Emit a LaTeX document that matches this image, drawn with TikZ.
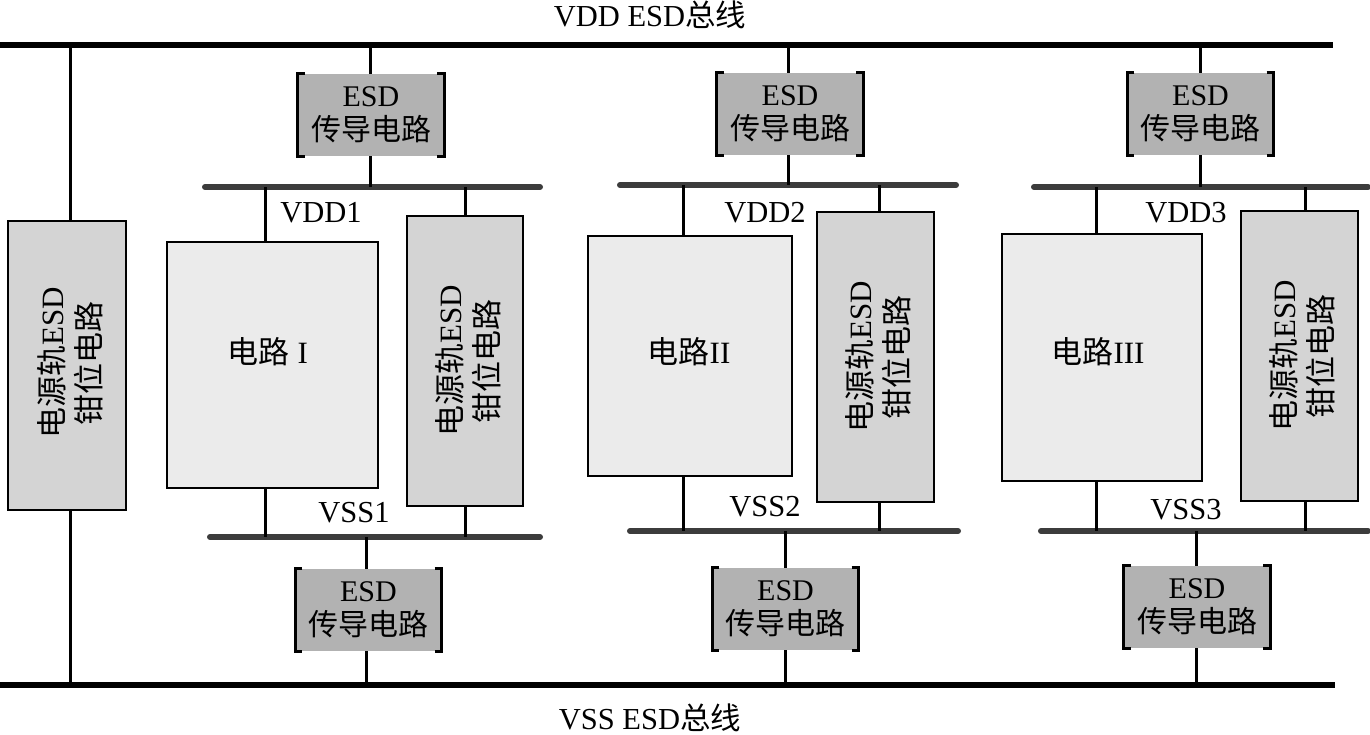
\documentclass[tikz,border=0pt]{standalone}
\usepackage{fontspec}
\setmainfont{Liberation Serif}
\newfontfamily\cjk{Noto Sans CJK SC}
\newcommand\zh[1]{{\cjk #1}}
\definecolor{esdgray}{HTML}{B2B2B2}
\definecolor{clampgray}{HTML}{D4D4D4}
\definecolor{circgray}{HTML}{EBEBEB}
\definecolor{busgray}{HTML}{3C3C3C}
\newcommand\brk[1]{%
  \draw[brkline] ([xshift=7pt]#1.north west) -- (#1.north west) -- (#1.south west) -- ([xshift=7pt]#1.south west);
  \draw[brkline] ([xshift=-7pt]#1.north east) -- (#1.north east) -- (#1.south east) -- ([xshift=-7pt]#1.south east);}
\begin{document}
\begin{tikzpicture}[x=1pt,y=-1pt,
  mainbus/.style={line width=6.5pt,black},
  lbus/.style={line width=6pt,draw=busgray,line cap=round},
  wire/.style={line width=3pt},
  brkline/.style={line width=3pt,line join=miter},
  esd/.style={fill=esdgray,minimum width=146pt,minimum height=82pt,inner sep=0pt,align=center,
     font=\fontsize{30}{34}\selectfont},
  circbox/.style={draw,line width=2.5pt,fill=circgray,inner sep=0pt},
  circtext/.style={inner sep=0pt,font=\fontsize{31}{34}\selectfont},
  clampbox/.style={draw,line width=2.5pt,fill=clampgray,inner sep=0pt},
  clamptext/.style={rotate=90,align=center,font=\fontsize{31}{37}\selectfont},
  lbl/.style={font=\fontsize{30.5}{34}\selectfont,inner sep=0pt}]
\useasboundingbox (0,0) rectangle (1370,734);

% main buses
\coordinate (VL) at (0,45);   \coordinate (VR) at (1333,45);
\coordinate (SL) at (0,685);  \coordinate (SR) at (1335,685);
\draw[mainbus] (VL) -- (VR);
\draw[mainbus] (SL) -- (SR);
\node[lbl] (ttop) at (650,15) {VDD ESD\zh{总线}};
\node[lbl] (tbot) at (650,718) {VSS ESD\zh{总线}};

% left clamp
\node[clampbox,minimum width=118pt,minimum height=289pt] (lc) at (67,365.5) {};
\node[clamptext] (lct) at (70,363) {\zh{电源轨}ESD\\\zh{钳位电路}};
\coordinate (lt) at (70,45);
\draw[wire] (lt) -- (lt |- lc.north);
\draw[wire] (lc.south -| lt) -- (lt |- SL);

% local buses
\coordinate (d1L) at (205,187);  \coordinate (d1R) at (540,187);
\coordinate (s1L) at (210,537);  \coordinate (s1R) at (540,537);
\coordinate (d2L) at (620,185);  \coordinate (d2R) at (956,185);
\coordinate (s2L) at (630,531);  \coordinate (s2R) at (958,531);
\coordinate (d3L) at (1034,187); \coordinate (d3R) at (1368,187);
\coordinate (s3L) at (1041,531); \coordinate (s3R) at (1368,531);
\foreach \a/\b in {d1L/d1R,s1L/s1R,d2L/d2R,s2L/s2R,d3L/d3R,s3L/s3R}
  \draw[lbus] (\a) -- (\b);

\node[lbl] (vdd1) at (321,213) {VDD1};
\node[lbl] (vss1) at (354,513) {VSS1};
\node[lbl] (vdd2) at (765,213) {VDD2};
\node[lbl] (vss2) at (765,507) {VSS2};
\node[lbl] (vdd3) at (1186,213) {VDD3};
\node[lbl] (vss3) at (1186,510) {VSS3};

% ESD conduction circuits
\node[esd] (T1) at (371,115) {ESD\\\zh{传导电路}};
\node[esd] (T2) at (790,114) {ESD\\\zh{传导电路}};
\node[esd] (T3) at (1200.5,114) {ESD\\\zh{传导电路}};
\node[esd] (B1) at (368.5,610) {ESD\\\zh{传导电路}};
\node[esd] (B2) at (785.5,609) {ESD\\\zh{传导电路}};
\node[esd] (B3) at (1197,607) {ESD\\\zh{传导电路}};
\brk{T1}\brk{T2}\brk{T3}\brk{B1}\brk{B2}\brk{B3}

% taps for ESD conduction
\foreach \n/\x/\d/\s in {1/370/d1L/s1L,2/788/d2L/s2L,3/1200/d3L/s3L}{
  \coordinate (ta\n) at (\x,45);
  \draw[wire] (ta\n) -- (ta\n |- T\n.north);
  \draw[wire] (T\n.south -| ta\n) -- (ta\n |- \d);
}
\foreach \n/\x/\s in {1/366/s1L,2/785/s2L,3/1196/s3L}{
  \coordinate (tb\n) at (\x,685);
  \draw[wire] (tb\n |- \s) -- (tb\n |- B\n.north);
  \draw[wire] (B\n.south -| tb\n) -- (tb\n);
}

% circuits
\node[circbox,minimum width=211pt,minimum height=246pt] (C1) at (272.5,365) {};
\node[circbox,minimum width=204pt,minimum height=240pt] (C2) at (690,356) {};
\node[circbox,minimum width=200pt,minimum height=247pt] (C3) at (1102,357.5) {};
\node[circtext] (C1t) at (268,352) {\zh{电路} I};
\node[circtext] (C2t) at (689,352) {\zh{电路}II};
\node[circtext] (C3t) at (1098,352) {\zh{电路}III};

% clamps
\node[clampbox,minimum width=116pt,minimum height=290pt] (K1) at (465,361) {};
\node[clampbox,minimum width=117pt,minimum height=290pt] (K2) at (875.5,357) {};
\node[clampbox,minimum width=117pt,minimum height=290pt] (K3) at (1299.5,356) {};
\node[clamptext] (K1t) at (468,361) {\zh{电源轨}ESD\\\zh{钳位电路}};
\node[clamptext] (K2t) at (878,357) {\zh{电源轨}ESD\\\zh{钳位电路}};
\node[clamptext] (K3t) at (1302,356) {\zh{电源轨}ESD\\\zh{钳位电路}};

% circuit and clamp taps
\foreach \n/\cx/\kx/\d/\s in {1/265/465/d1L/s1L,2/683/879/d2L/s2L,3/1096/1305/d3L/s3L}{
  \coordinate (cc\n) at (\cx,0);
  \coordinate (kk\n) at (\kx,0);
  \draw[wire] (cc\n |- \d) -- (cc\n |- C\n.north);
  \draw[wire] (C\n.south -| cc\n) -- (cc\n |- \s);
  \draw[wire] (kk\n |- \d) -- (kk\n |- K\n.north);
  \draw[wire] (K\n.south -| kk\n) -- (kk\n |- \s);
}
\end{tikzpicture}
\end{document}
